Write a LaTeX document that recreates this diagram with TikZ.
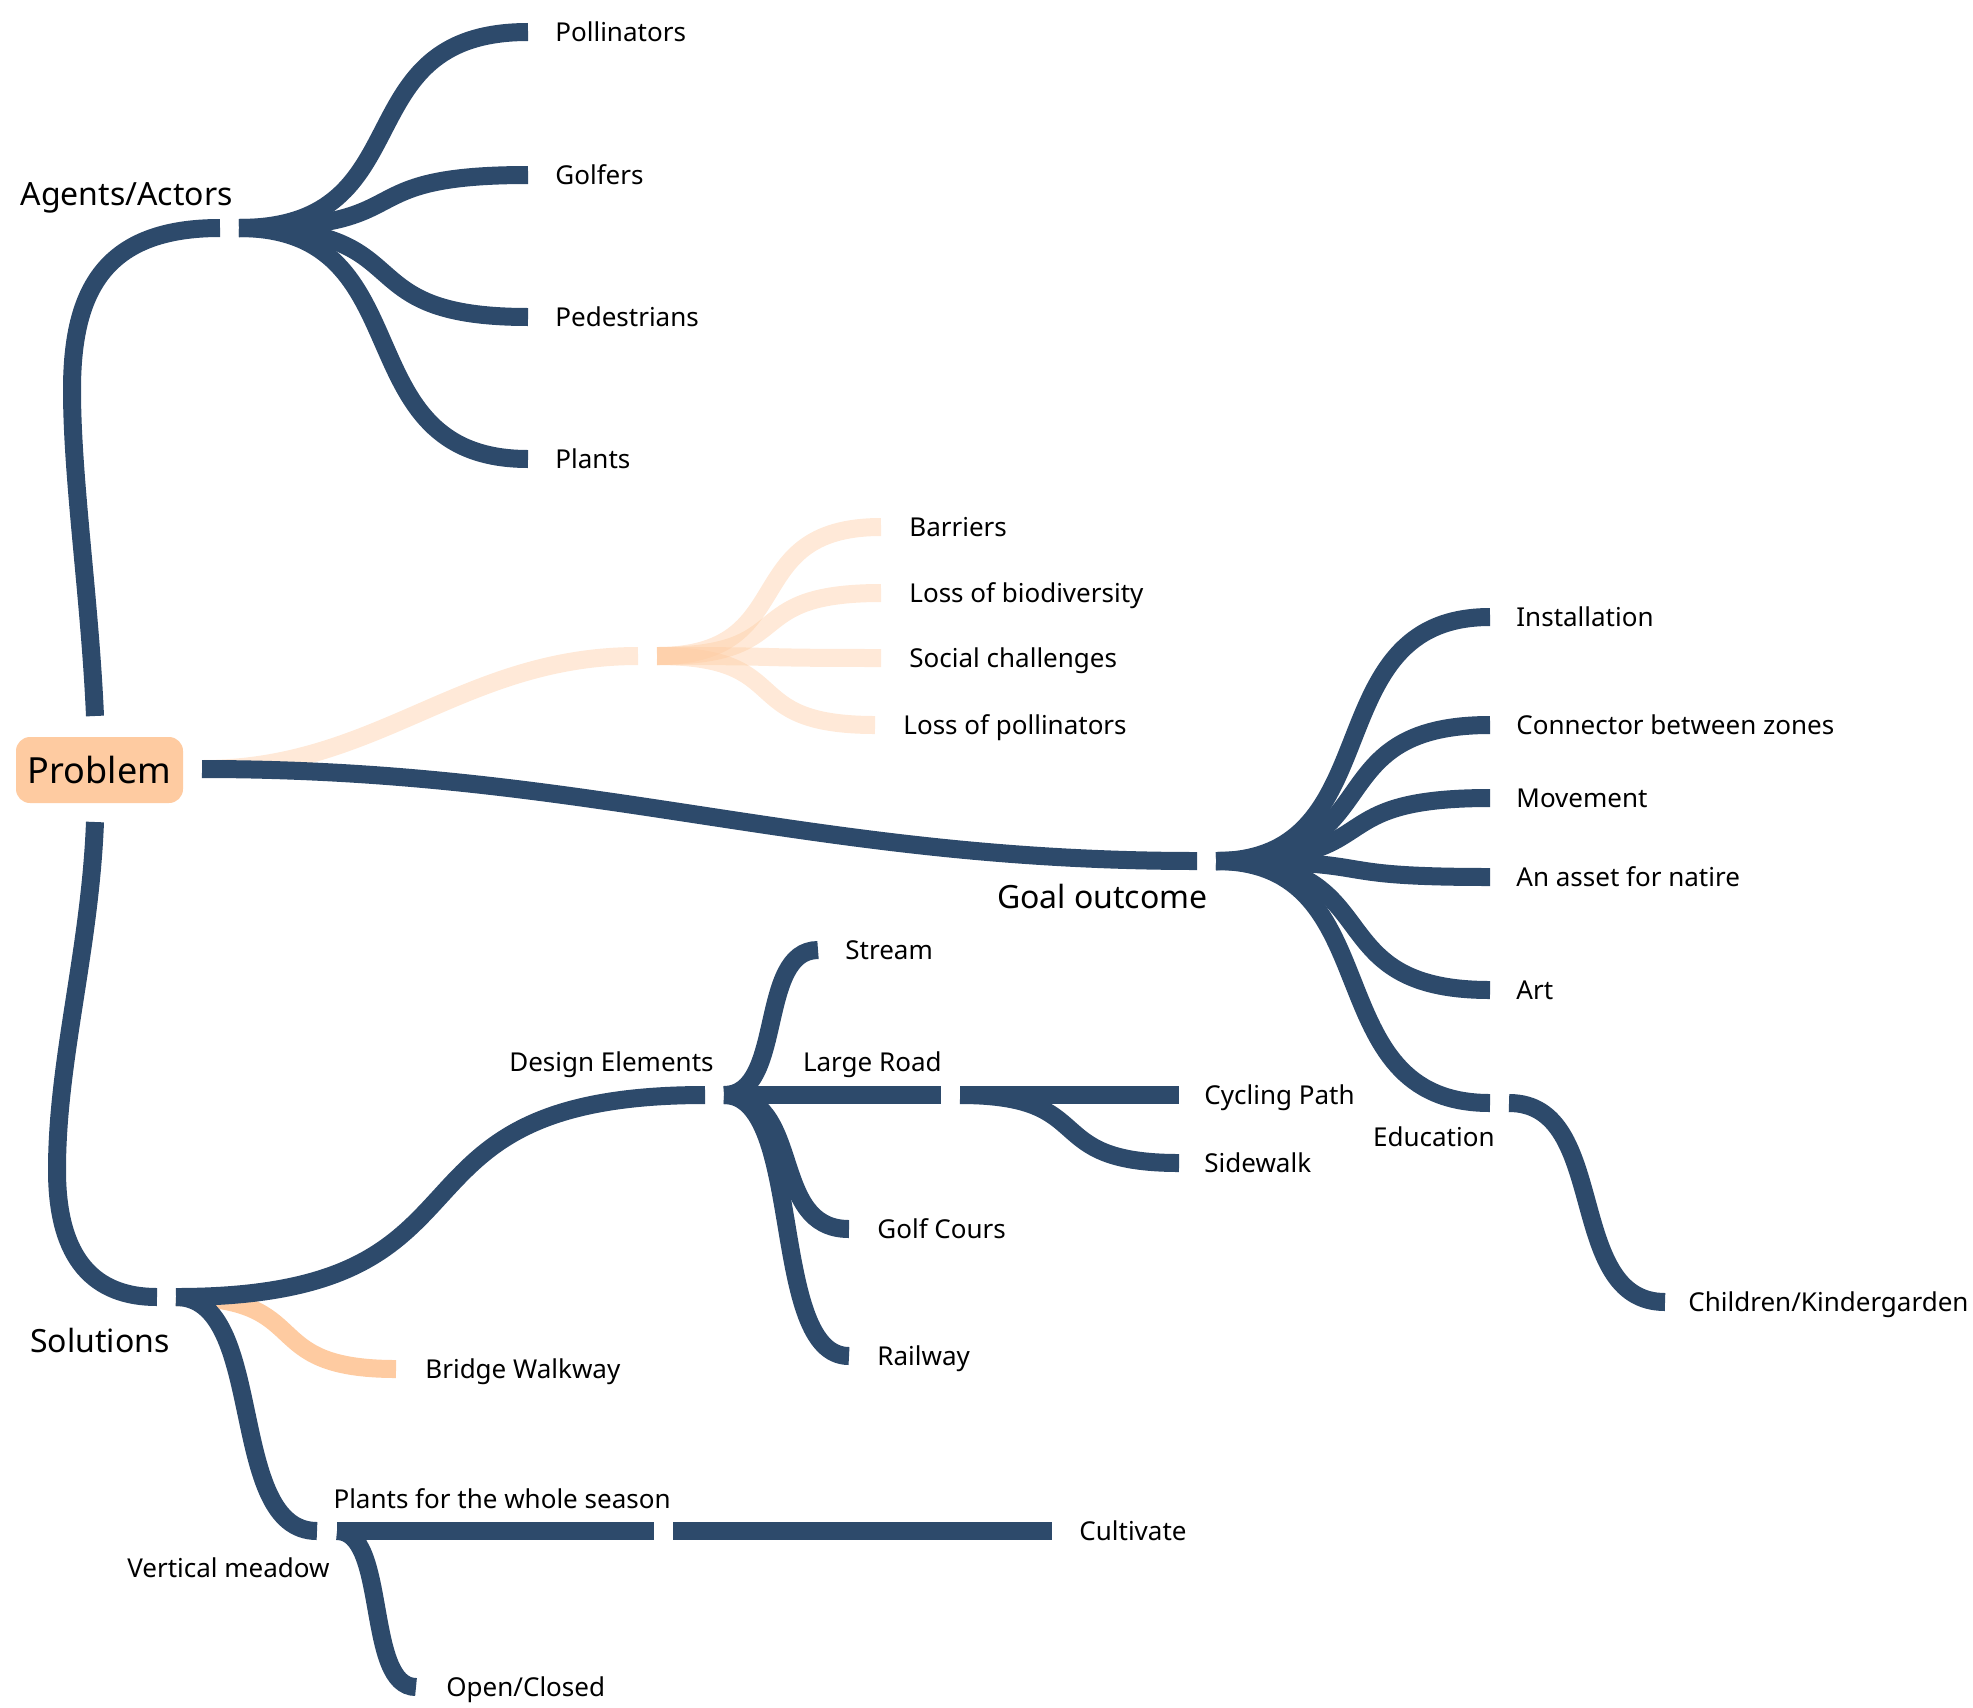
\documentclass[tikz,border=0pt]{standalone}
\usepackage{fontspec}
\usetikzlibrary{calc}
\setmainfont{Noto Sans}
\definecolor{navy}{HTML}{2D4A6B}
\definecolor{peach}{HTML}{FECBA1}
\begin{document}
\begin{tikzpicture}[x=0.5pt,y=-0.5pt,
  br/.style={draw=navy,line width=9pt},
  fade/.style={draw=peach,line width=9pt,draw opacity=0.42},
  pbr/.style={draw=peach,line width=9pt},
  cv/.style={to path={let \p1=(\tikztostart), \p2=(\tikztotarget),
     \n1={0.65*(\x2-\x1)} in .. controls +(\n1,0pt) and +(-\n1,0pt) .. (\tikztotarget)}},
  flat/.style={out=0,in=180,looseness=1},
  leaf/.style={anchor=base west,inner sep=0pt,font=\fontsize{13}{15}\selectfont},
  sub/.style={anchor=base east,inner sep=0pt,font=\fontsize{13}{15}\selectfont},
  top/.style={anchor=base east,inner sep=0pt,font=\fontsize{16}{19}\selectfont}]
\useasboundingbox (0,0) rectangle (1973,1707);

% ---------- coordinates ----------
\coordinate (agL) at (220,228);  \coordinate (agR) at (239,228);
\coordinate (pollE) at (528,32); \coordinate (golfE) at (528,175);
\coordinate (pedE) at (528,317); \coordinate (plantsE) at (528,459);
\coordinate (probT) at (95,716); \coordinate (probB) at (95,822);
\coordinate (probR) at (202,769);
\coordinate (fadL) at (638,656); \coordinate (fadR) at (657,656);
\coordinate (barE) at (881,527); \coordinate (biodE) at (881,593);
\coordinate (socE) at (881,658); \coordinate (lpolE) at (875,725);
\coordinate (goL) at (1197,861); \coordinate (goR) at (1216,861);
\coordinate (instE) at (1490,617); \coordinate (connE) at (1490,725);
\coordinate (moveE) at (1490,798); \coordinate (assetE) at (1490,877);
\coordinate (artE) at (1490,990);
\coordinate (eduL) at (1490,1103); \coordinate (eduR) at (1509,1103);
\coordinate (kindE) at (1665,1302);
\coordinate (solL) at (157,1297); \coordinate (solR) at (176,1297);
\coordinate (deL) at (705,1095); \coordinate (deR) at (724,1095);
\coordinate (bridgeE) at (396,1369);
\coordinate (vmL) at (317,1531); \coordinate (vmR) at (337,1531);
\coordinate (streamE) at (818,950);
\coordinate (lrL) at (941,1095); \coordinate (lrR) at (960,1095);
\coordinate (golfcE) at (849,1229); \coordinate (railE) at (849,1356);
\coordinate (cycE) at (1179,1095); \coordinate (sideE) at (1179,1163);
\coordinate (pfL) at (654,1531); \coordinate (pfR) at (673,1531);
\coordinate (cultE) at (1052,1531);
\coordinate (openE) at (416,1687);

% ---------- faded problem branch ----------
\draw[fade] (probR) to[flat] (fadL);
\draw[fade] (fadR) to[cv] (barE);
\draw[fade] (fadR) to[cv] (biodE);
\draw[fade] (fadR) to[cv] (socE);
\draw[fade] (fadR) to[cv] (lpolE);

% ---------- bridge walkway ----------
\draw[pbr] (solR) to[cv] (bridgeE);

% ---------- trunks ----------
\draw[br] (probT) .. controls (90,600) and (72,480) .. (72,390)
  .. controls (72,290) and (105,228) .. (agL);
\draw[br] (probB) .. controls (90,950) and (57,1060) .. (57,1170)
  .. controls (57,1260) and (95,1297) .. (solL);
\draw[br] (probR) to[flat] (goL);

% ---------- agents ----------
\draw[br] (agR) to[cv] (pollE);
\draw[br] (agR) to[cv] (golfE);
\draw[br] (agR) to[cv] (pedE);
\draw[br] (agR) to[cv] (plantsE);

% ---------- goal outcome ----------
\draw[br] (goR) to[cv] (instE);
\draw[br] (goR) to[cv] (connE);
\draw[br] (goR) to[cv] (moveE);
\draw[br] (goR) to[cv] (assetE);
\draw[br] (goR) to[cv] (artE);
\draw[br] (goR) to[cv] (eduL);
\draw[br] (eduR) to[cv] (kindE);

% ---------- solutions ----------
\draw[br] (solR) to[cv] (deL);
\draw[br] (solR) to[cv] (vmL);
\draw[br] (deR) to[cv] (streamE);
\draw[br] (deR) -- (lrL);
\draw[br] (deR) to[cv] (golfcE);
\draw[br] (deR) to[cv] (railE);
\draw[br] (lrR) -- (cycE);
\draw[br] (lrR) to[cv] (sideE);
\draw[br] (vmR) -- (pfL);
\draw[br] (pfR) -- (cultE);
\draw[br] (vmR) to[cv] (openE);

% ---------- nodes ----------
\node[fill=peach,rounded corners=7pt,minimum width=83.5pt,minimum height=33pt,inner sep=0pt,
  font=\fontsize{18}{21}\selectfont] (problem) at (99.5,770) {Problem};

\node[top] (agents) at (233,205) {Agents/Actors};
\node[top] (goal) at (1208,908) {Goal outcome};
\node[top] (solutions) at (170,1352) {Solutions};

\node[leaf] (poll) at (555,41.5) {Pollinators};
\node[leaf] (golf) at (555,184.5) {Golfers};
\node[leaf] (ped) at (555,326.5) {Pedestrians};
\node[leaf] (plants) at (555,468.5) {Plants};

\node[leaf] (bar) at (909,536.5) {Barriers};
\node[leaf] (biod) at (909,602.5) {Loss of biodiversity};
\node[leaf] (soc) at (909,667.5) {Social challenges};
\node[leaf] (lpol) at (903,734.5) {Loss of pollinators};

\node[leaf] (inst) at (1516,626.5) {Installation};
\node[leaf] (conn) at (1516,734.5) {Connector between zones};
\node[leaf] (move) at (1516,807.5) {Movement};
\node[leaf] (asset) at (1516,886.5) {An asset for natire};
\node[leaf] (art) at (1516,999.5) {Art};
\node[sub] (edu) at (1495,1146) {Education};
\node[leaf] (kind) at (1688,1311.5) {Children/Kindergarden};

\node[sub] (de) at (714,1071) {Design Elements};
\node[leaf] (stream) at (845,959.5) {Stream};
\node[sub] (lr) at (942,1071) {Large Road};
\node[leaf] (golfc) at (877,1238.5) {Golf Cours};
\node[leaf] (rail) at (877,1365.5) {Railway};
\node[leaf] (cyc) at (1204,1104.5) {Cycling Path};
\node[leaf] (side) at (1204,1172.5) {Sidewalk};
\node[leaf] (bridge) at (425,1378.5) {Bridge Walkway};
\node[sub] (vm) at (330,1577) {Vertical meadow};
\node[sub] (pf) at (671,1508) {Plants for the whole season};
\node[leaf] (cult) at (1079,1540.5) {Cultivate};
\node[leaf] (open) at (446,1696.5) {Open/Closed};
\end{tikzpicture}
\end{document}
